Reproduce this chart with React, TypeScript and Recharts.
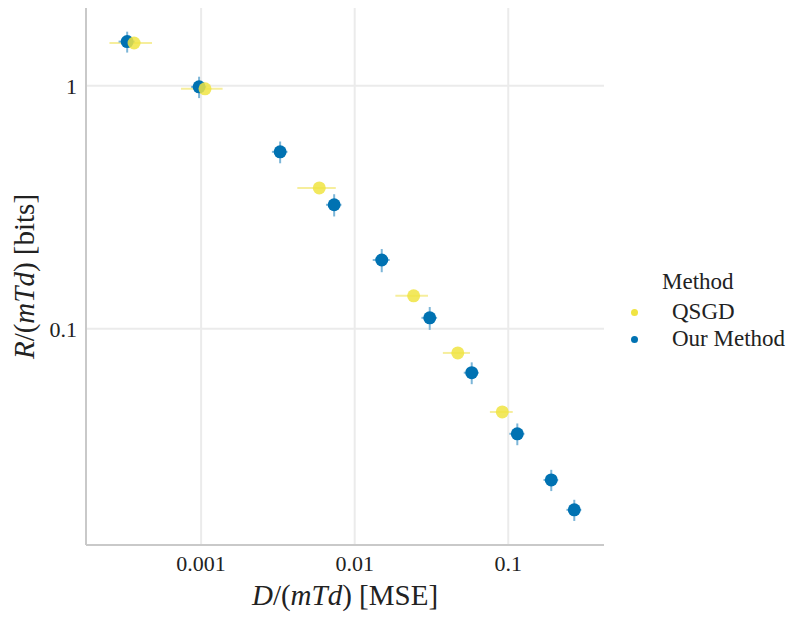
import React from "react";
import { ScatterChart, Scatter, XAxis, YAxis, ReferenceLine, ErrorBar } from "recharts";

// ---- data ----
const methods = ["QSGD", "Our Method"];
const qsgdD = [3.66e-4, 1.06e-3, 5.88e-3, 0.0242, 0.0469, 0.0914];
const qsgdR = [1.5, 0.972, 0.38, 0.1367, 0.0796, 0.0455];
const qsgdDErr = [1.13e-4, 3.2e-4, 1.65e-3, 5.8e-3, 9.4e-3, 0.0155];
const qsgdRErr = [0.01, 0.006, 0.003, 0.001, 0.0006, 0.0004];

const ourD = [3.3e-4, 9.7e-4, 3.27e-3, 7.35e-3, 0.015, 0.0308, 0.0578, 0.1145, 0.1905, 0.269];
const ourR = [1.52, 0.99, 0.535, 0.324, 0.192, 0.111, 0.066, 0.037, 0.0239, 0.018];
const ourDErr = [4e-5, 1.1e-4, 3.8e-4, 8.5e-4, 1.9e-3, 3.6e-3, 6.5e-3, 1.3e-2, 2.1e-2, 3.0e-2];
const ourRErr = [0.15, 0.1, 0.055, 0.034, 0.021, 0.012, 0.0068, 0.0038, 0.0024, 0.0018];

const xTicks = [0.001, 0.01, 0.1];
const yTicks = [0.1, 1];

const xDomain = [1.78e-4, 0.42];
const yDomain = [0.0129, 2.09];

const YELLOW = "#F0E442";
const BLUE = "#0072B2";
const YELLOW_ERR = "#F6EE9C";
const BLUE_ERR = "#7DB6D8";
const GRID = "#EBEBEB";
const FONT = "'Liberation Serif', 'DejaVu Serif', serif";

const build = (d: number[], r: number[], de: number[], re: number[]) =>
  d.map((v, i) => ({ d: v, r: r[i], dErr: de[i], rErr: re[i] }));

const qsgdData = build(qsgdD, qsgdR, qsgdDErr, qsgdRErr);
const ourData = build(ourD, ourR, ourDErr, ourRErr);

const dot = (color: string, opacity = 1) => (props: any) => (
  <circle cx={props.cx} cy={props.cy} r={6.5} fill={color} fillOpacity={opacity} />
);
const none = () => <g />;

const XLabel = (props: any) => {
  const vb = props.viewBox || { x: 0, y: 0, width: 0, height: 0 };
  return (
    <text x={vb.x + vb.width / 2} y={605} textAnchor="middle" fontFamily={FONT} fontSize={29} fill="#222">
      <tspan fontStyle="italic">D</tspan>
      <tspan>/(</tspan>
      <tspan fontStyle="italic">mTd</tspan>
      <tspan>) [MSE]</tspan>
    </text>
  );
};

const YLabel = (props: any) => {
  const vb = props.viewBox || { x: 0, y: 0, width: 0, height: 0 };
  const cx = 34;
  const cy = vb.y + vb.height / 2;
  return (
    <text
      x={cx}
      y={cy}
      transform={`rotate(-90 ${cx} ${cy})`}
      textAnchor="middle"
      fontFamily={FONT}
      fontSize={29}
      fill="#222"
    >
      <tspan fontStyle="italic">R</tspan>
      <tspan>/(</tspan>
      <tspan fontStyle="italic">mTd</tspan>
      <tspan>) [bits]</tspan>
    </text>
  );
};

const legendColors = [YELLOW, BLUE];
const legendTop = [312, 339];

export default function App() {
  return (
    <div style={{ position: "absolute", left: 0, top: 0, width: 802, height: 623, background: "#fff" }}>
      <ScatterChart width={802} height={623} margin={{ top: 8, right: 198, bottom: 18, left: 0 }}>
        <XAxis
          type="number"
          dataKey="d"
          scale="log"
          domain={xDomain}
          allowDataOverflow
          ticks={xTicks}
          height={60}
          tickLine={false}
          tickSize={0}
          tickMargin={10}
          axisLine={{ stroke: "#C9C9C9", strokeWidth: 2 }}
          tick={{ fill: "#222", fontSize: 22, fontFamily: FONT }}
          label={<XLabel />}
        />
        <YAxis
          type="number"
          dataKey="r"
          scale="log"
          domain={yDomain}
          allowDataOverflow
          ticks={yTicks}
          width={86}
          tickLine={false}
          tickSize={0}
          tickMargin={9}
          axisLine={{ stroke: "#C9C9C9", strokeWidth: 2 }}
          tick={{ fill: "#222", fontSize: 22, fontFamily: FONT }}
          label={<YLabel />}
        />
        {xTicks.map((t) => (
          <ReferenceLine key={"x" + t} x={t} stroke={GRID} strokeWidth={2} />
        ))}
        {yTicks.map((t) => (
          <ReferenceLine key={"y" + t} y={t} stroke={GRID} strokeWidth={2} />
        ))}
        <Scatter name="QSGD-err" data={qsgdData} shape={none} isAnimationActive={false}>
          <ErrorBar dataKey="dErr" direction="x" width={0} stroke={YELLOW_ERR} strokeWidth={2} />
          <ErrorBar dataKey="rErr" direction="y" width={0} stroke={YELLOW_ERR} strokeWidth={2} />
        </Scatter>
        <Scatter name="Our Method" data={ourData} shape={dot(BLUE)} isAnimationActive={false}>
          <ErrorBar dataKey="dErr" direction="x" width={0} stroke={BLUE_ERR} strokeWidth={2} />
          <ErrorBar dataKey="rErr" direction="y" width={0} stroke={BLUE_ERR} strokeWidth={2} />
        </Scatter>
        <Scatter name="QSGD" data={qsgdData} shape={dot(YELLOW, 0.85)} isAnimationActive={false} />
      </ScatterChart>
      <div
        style={{
          position: "absolute",
          left: 662,
          top: 268,
          fontFamily: FONT,
          fontSize: 23,
          color: "#222",
          lineHeight: "28px",
          whiteSpace: "nowrap",
        }}
      >
        Method
      </div>
      {methods.map((m, i) => (
        <React.Fragment key={m}>
          <div
            style={{
              position: "absolute",
              left: 630.5,
              top: legendTop[i] - 3.5,
              width: 7,
              height: 7,
              borderRadius: 3.5,
              background: legendColors[i],
            }}
          />
          <div
            style={{
              position: "absolute",
              left: 672,
              top: legendTop[i] - 14,
              fontFamily: FONT,
              fontSize: 23,
              color: "#222",
              lineHeight: "28px",
              whiteSpace: "nowrap",
            }}
          >
            {m}
          </div>
        </React.Fragment>
      ))}
    </div>
  );
}
